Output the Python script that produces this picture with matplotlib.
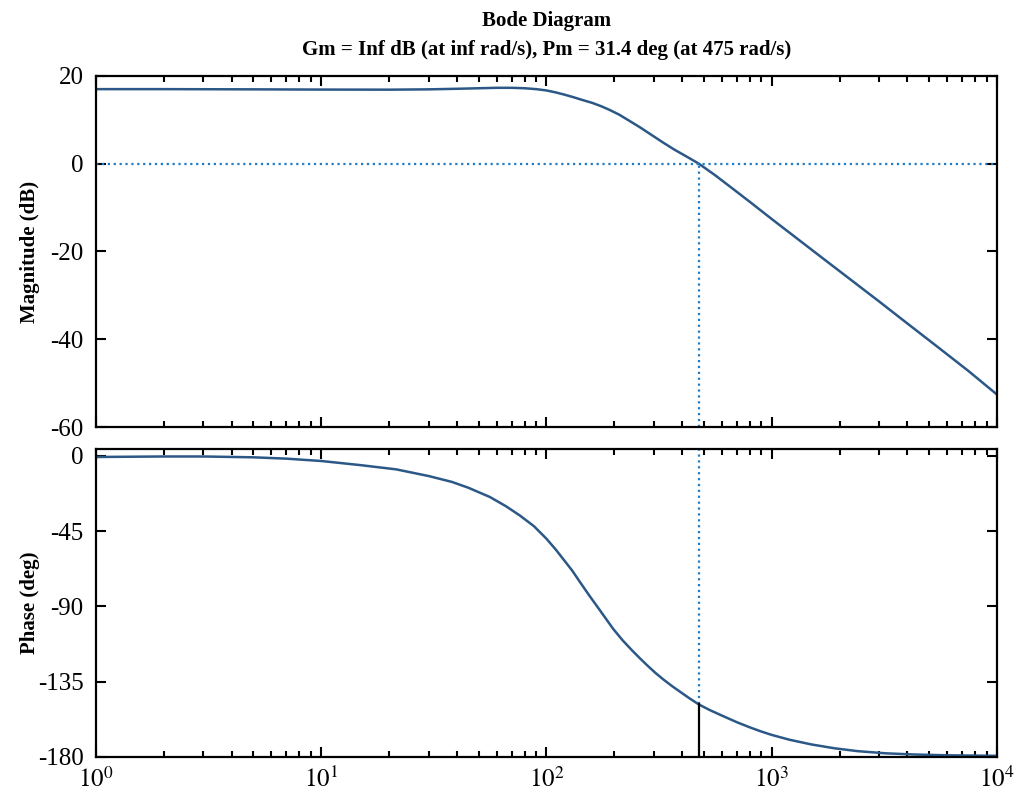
import numpy as np
import matplotlib
matplotlib.use('Agg')
import matplotlib.pyplot as plt

plt.rcParams['font.family'] = ['Liberation Serif', 'DejaVu Serif']
plt.rcParams['mathtext.fontset'] = 'stix'

# 幅值 (dB)
w_mag = [1, 2, 5, 10, 20, 30, 40, 50, 60, 70, 80, 90, 100, 110, 120, 130, 145, 160,
         175, 190, 210, 234, 260, 290, 330, 370, 420, 475, 560, 660, 800, 1000, 1300,
         1700, 2200, 3000, 4000, 5500, 7500, 10000]
mag_db = [17.0, 17.0, 16.95, 16.9, 16.88, 16.95, 17.08, 17.2, 17.3, 17.3, 17.2, 17.0,
          16.7, 16.25, 15.75, 15.25, 14.5, 13.85, 13.1, 12.3, 11.2, 9.74, 8.3, 6.7,
          4.8, 3.2, 1.6, 0.0, -2.6, -5.4, -8.7, -12.6, -17.1, -21.7, -26.1, -31.4,
          -36.4, -41.9, -47.3, -52.6]

# 相位 (deg)
w_ph = [1, 2, 3, 5, 7, 10, 15, 21.5, 30, 38, 45, 56, 66, 76, 88, 100, 110, 120, 130,
        141, 155, 170, 184, 198, 218, 240, 260, 279, 305, 330, 360, 392, 430, 475, 530,
        600, 700, 800, 900, 1000, 1200, 1500, 1900, 2400, 3200, 4250, 6000, 10000]
phase = [-0.6, -0.3, -0.3, -0.8, -1.6, -3.0, -5.5, -8.0, -12.0, -15.5, -19.0, -24.5,
         -30.0, -35.5, -42.0, -49.5, -56.0, -62.5, -68.5, -75.5, -83.5, -91.0, -97.5,
         -103.5, -110.3, -116.3, -121.0, -125.0, -129.8, -133.6, -137.5, -141.0,
         -144.8, -148.6, -151.9, -155.2, -159.2, -162.3, -164.8, -166.8, -169.7,
         -172.5, -174.8, -176.5, -177.8, -178.5, -179.0, -179.3]

wc = 475      # 穿越频率
pm_phase = -148.6

title = 'Bode Diagram\nGm = Inf dB (at inf rad/s), Pm = 31.4 deg (at 475 rad/s)'
mag_ticks = [20, 0, -20, -40, -60]
ph_ticks = [0, -45, -90, -135, -180]

line_c = '#2b5887'
dot_c = '#1f7cc6'

fig = plt.figure(figsize=(10.17, 7.98), dpi=100)
ax1 = fig.add_axes([0.0944, 0.4649, 0.8859, 0.4399])
ax2 = fig.add_axes([0.0944, 0.0514, 0.8859, 0.3860])

ax1.plot(w_mag, mag_db, color=line_c, lw=1.8)
ax1.axhline(0, color=dot_c, ls=':', lw=1.6)
ax1.plot([wc, wc], [-60, 0], color=dot_c, ls=':', lw=1.6)
ax1.set_xscale('log')
ax1.set_xlim(1, 1e4)
ax1.set_ylim(-60, 20)
ax1.set_yticks(mag_ticks)
ax1.set_yticklabels([str(t) for t in mag_ticks])
ax1.tick_params(labelbottom=False)
ax1.set_ylabel('Magnitude (dB)', fontsize=15, fontweight='bold')
ax1.set_title(title, fontsize=15, fontweight='bold', pad=15, linespacing=1.6)

ax2.plot(w_ph, phase, color=line_c, lw=1.8)
ax2.plot([wc, wc], [pm_phase, 4.2], color=dot_c, ls=':', lw=1.6)
ax2.plot([wc, wc], [-180, pm_phase], color='black', lw=1.6)
ax2.set_xscale('log')
ax2.set_xlim(1, 1e4)
ax2.set_ylim(-180, 4.2)
ax2.set_yticks(ph_ticks)
ax2.set_yticklabels([str(t) for t in ph_ticks])
ax2.set_xticks([1, 10, 100, 1000, 10000])
ax2.set_xticklabels([r'$10^{%d}$' % i for i in range(5)])
ax2.set_ylabel('Phase (deg)', fontsize=15, fontweight='bold')

for ax in (ax1, ax2):
    for s in ax.spines.values():
        s.set_linewidth(1.6)
    ax.tick_params(which='both', direction='in', top=True, right=True,
                   labelsize=18, width=1.5)
    ax.tick_params(which='major', length=7)
    ax.tick_params(which='minor', length=4)
    ax.tick_params(axis='y', pad=9)
    ax.tick_params(axis='x', pad=7)
    ax.yaxis.set_minor_locator(matplotlib.ticker.NullLocator())
    ax.yaxis.set_label_coords(-0.062, 0.5)

fig.savefig('out.png', dpi=100)
